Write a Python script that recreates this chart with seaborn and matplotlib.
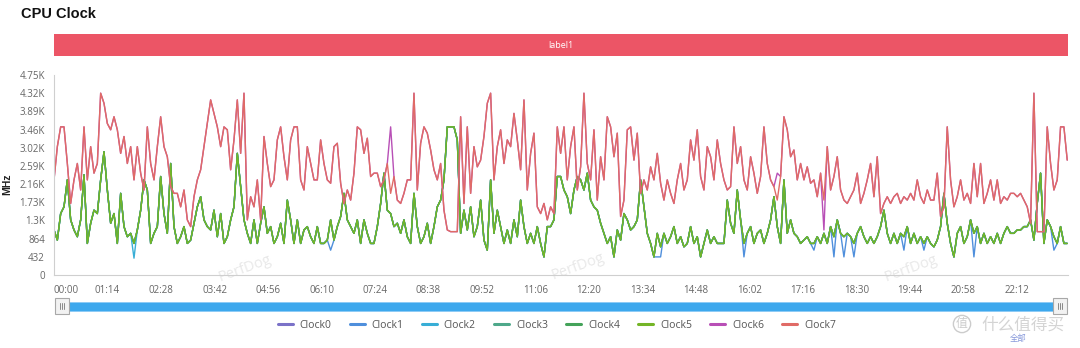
import numpy as np
import pandas as pd
import matplotlib
matplotlib.use("Agg")
import matplotlib.pyplot as plt
import seaborn as sns
from matplotlib.patches import Rectangle
from matplotlib.lines import Line2D

# ---------------- data ----------------
series_names = ["Clock0", "Clock1", "Clock2", "Clock3", "Clock4", "Clock5", "Clock6", "Clock7"]
series_colors = ["#7b72c8", "#4f8fdc", "#38aed6", "#4ea88a", "#44a35a", "#74b527", "#b84fb6", "#e06b66"]

sample_step_s = 4.61  # seconds between samples

clock7 = [
    2260, 3050, 3520, 3520, 2650, 1700, 2260, 2650, 2020, 3520,
    2260, 3050, 2420, 2650, 4320, 4080, 3600, 3450, 3760, 3450,
    2890, 3290, 2650, 3050, 2260, 3050, 2420, 2020, 3520, 2650,
    2260, 3050, 3760, 3050, 2810, 2100, 1940, 1940, 1620, 2020,
    1310, 1150, 1860, 2260, 2500, 3050, 3600, 4160, 3840, 3520,
    3050, 3520, 3450, 2500, 3210, 4160, 2890, 4320, 1310, 1860,
    1620, 2260, 1310, 3290, 2650, 2100, 2260, 3210, 3520, 2810,
    2260, 3210, 3520, 3520, 2260, 2020, 3050, 2650, 2260, 2260,
    3210, 2650, 2260, 2180, 3050, 3130, 2180, 1700, 2020, 1780,
    2420, 3520, 3450, 2890, 3250, 2340, 2420, 2420, 2100, 2260,
    2650, 1940, 2340, 1780, 1700, 1940, 2260, 2260, 4320, 2020,
    3130, 3520, 3370, 2970, 2500, 2260, 2650, 1540, 1070, 1030,
    1030, 1030, 3760, 1700, 3520, 1940, 3050, 2570, 2730, 3290,
    4080, 4320, 2260, 3050, 3450, 2650, 3210, 3050, 3840, 3210,
    2500, 4160, 2020, 2890, 3370, 1620, 1460, 1700, 1310, 1620,
    1460, 3520, 2890, 3520, 2260, 3050, 3520, 2020, 2570, 4320,
    2650, 2260, 3450, 1780, 2810, 2260, 3760, 3520, 2810, 3370,
    1390, 1780, 3450, 3520, 2730, 3370, 1940, 2260, 2020, 2570,
    2260, 2890, 2180, 1780, 2260, 1940, 1700, 2260, 2650, 2020,
    2260, 3210, 2730, 3450, 2340, 2020, 3050, 2810, 2260, 3210,
    2650, 2260, 2020, 2100, 3520, 2650, 3050, 2260, 2020, 2810,
    2420, 1940, 2340, 3520, 2650, 2260, 2100, 1780, 2340, 3760,
    3450, 2810, 2970, 2260, 2650, 2260, 2570, 2180, 2260, 1860,
    2420, 1780, 3050, 2020, 2340, 2810, 2020, 1780, 1700,
    1860, 2020, 2420, 1700, 1940, 2260, 2650, 1860, 2810, 1460,
    1700, 1860, 1700, 1860, 1940, 1700, 1860, 1780, 1940, 1780,
    2260, 1860, 1700, 2020, 1780, 1780, 2420, 1390, 1620, 3520,
    2260, 1620, 1860, 2260, 1780, 1940, 1700, 2650, 1860, 2650,
    1700, 1940, 2260, 1780, 2260, 1700, 1860, 1780, 1940, 1940,
    1860, 1940, 1780, 1620, 1230, 4320, 1030, 1030, 1030, 3520,
    2650, 2020, 2260, 3520, 3520, 2730,
]

clock5 = [
    1070, 830, 1460, 1620, 2260, 1310, 1070, 910, 1310, 2380,
    750, 1230, 1540, 1460, 2260, 2930, 2020, 1230, 1460, 750,
    1940, 1150, 910, 990, 750, 1070, 1540, 2260, 2020, 750,
    990, 1150, 2340, 1460, 990, 2650, 1150, 750, 910, 1150,
    750, 830, 1230, 1620, 1860, 1310, 1150, 1070, 1540, 910,
    1460, 750, 910, 1310, 1620, 2890, 2100, 1310, 990, 750,
    1310, 750, 1230, 1620, 990, 1150, 750, 910, 1230, 750,
    1780, 1310, 750, 1310, 750, 1070, 1150, 910, 750, 1150,
    750, 750, 830, 1310, 830, 1150, 1390, 1940, 1310, 1150,
    990, 1310, 750, 1310, 990, 750, 750, 1150, 1700, 2420,
    1540, 1460, 1150, 1230, 990, 1310, 910, 750, 1940, 1150,
    750, 910, 1230, 750, 1150, 1620, 1780, 2260, 3520, 3520,
    3520, 3210, 990, 1540, 1070, 1620, 910, 1150, 1780, 830,
    590, 2260, 990, 1540, 1150, 750, 1070, 750, 1310, 910,
    1780, 1150, 750, 990, 750, 1150, 750, 430, 1150, 1150,
    1310, 2340, 2340, 2020, 1860, 1460, 2020, 2340, 2260, 2020,
    2420, 1780, 1620, 1540, 1230, 990, 750, 910, 430, 1070,
    830, 1460, 1310, 1070, 1150, 1310, 2260, 1620, 990, 750,
    430, 990, 670, 990, 750, 910, 1150, 750, 910, 670,
    750, 1150, 750, 910, 430, 750, 1070, 750, 910, 750,
    750, 750, 1780, 1230, 990, 2020, 1310, 750, 990, 1150,
    750, 990, 1070, 750, 990, 1310, 1860, 1150, 750, 2260,
    990, 1310, 990, 910, 750, 830, 910, 750, 750, 910,
    750, 990, 750, 1150, 910, 1310, 990, 910, 990,
    910, 750, 990, 1150, 910, 750, 910, 750, 910, 1150,
    1540, 990, 750, 990, 750, 990, 910, 1150, 750, 990,
    750, 910, 750, 910, 750, 670, 830, 1150, 1940, 1230,
    750, 430, 990, 1150, 750, 910, 1310, 990, 1150, 750,
    990, 750, 910, 750, 990, 750, 990, 1150, 990, 990,
    1070, 1070, 1150, 1150, 1310, 830, 1700, 2420, 750, 1310,
    1150, 910, 750, 1150, 750, 750,
]

# samples where the other little cores / Clock6 differ from the visible lines
clock1_dip_index = [83, 181, 182, 207, 228, 234, 237, 240, 255, 261, 276, 300]
clock1_dip_mhz = [590, 430, 430, 430, 590, 430, 430, 430, 590, 590, 430, 590]
clock2_dip_index = [24]
clock2_dip_mhz = [400]
clock6_diff_index = [101, 217, 231]
clock6_diff_mhz = [3520, 2420, 1070]

y_ticks = [0, 432, 864, 1296, 1728, 2160, 2592, 3024, 3456, 3888, 4320, 4752]
y_tick_labels = ["0", "432", "864", "1.3K", "1.73K", "2.16K", "2.59K", "3.02K",
                 "3.46K", "3.89K", "4.32K", "4.75K"]
x_tick_labels = ["00:00", "01:14", "02:28", "03:42", "04:56", "06:10", "07:24",
                 "08:38", "09:52", "11:06", "12:20", "13:34", "14:48", "16:02",
                 "17:16", "18:30", "19:44", "20:58", "22:12"]
x_tick_step_s = 74
x_max_s = 1402.5

# ---------------- build series ----------------
n = len(clock7)
times = np.arange(n) * sample_step_s

clock1 = list(clock5)
for i, v in zip(clock1_dip_index, clock1_dip_mhz):
    clock1[i] = v
clock2 = list(clock5)
for i, v in zip(clock2_dip_index, clock2_dip_mhz):
    clock2[i] = v
clock6 = list(clock7)
for i, v in zip(clock6_diff_index, clock6_diff_mhz):
    clock6[i] = v

values = {
    "Clock0": clock5, "Clock1": clock1, "Clock2": clock2, "Clock3": clock5,
    "Clock4": clock5, "Clock5": clock5, "Clock6": clock6, "Clock7": clock7,
}
frames = [pd.DataFrame({"t": times, "MHz": values[k], "clock": k}) for k in series_names]
df = pd.concat(frames, ignore_index=True)

# ---------------- figure ----------------
sns.set_theme(style="white")
plt.rcParams['font.family'] = ['Open Sans', 'DejaVu Sans']

W, H = 1080, 348
def fx(x):
    return x / W
def fy(y):
    return 1 - y / H

fig = plt.figure(figsize=(W / 100, H / 100), dpi=100)
fig.patch.set_facecolor("white")

ax = fig.add_axes([fx(54), fy(275), 1014 / W, 200 / H])
ax.patch.set_alpha(0)

palette = dict(zip(series_names, series_colors))
sns.lineplot(data=df, x="t", y="MHz", hue="clock", hue_order=series_names,
             palette=palette, estimator=None, sort=False, lw=1.0, legend=False, ax=ax)

ax.set_xlim(0, x_max_s)
ax.set_ylim(0, y_ticks[-1])
ax.set_yticks(y_ticks)
ax.set_yticklabels(y_tick_labels)
ax.set_xticks([k * x_tick_step_s for k in range(len(x_tick_labels))])
ax.set_xticklabels(x_tick_labels)
ax.get_xticklabels()[0].set_horizontalalignment("left")
ax.set_xlabel("")
ax.set_ylabel("")
for s in ["top", "right"]:
    ax.spines[s].set_visible(False)
for s in ["left", "bottom"]:
    ax.spines[s].set_color("#cfcfcf")
    ax.spines[s].set_linewidth(0.8)
ax.tick_params(axis="both", direction="out", length=4, width=0.8, color="#c8c8c8",
               labelsize=7, labelcolor="#666666", pad=2.5)
ax.tick_params(axis="x", pad=3.5)

bold_family = ["Liberation Sans", "DejaVu Sans"]

# title
fig.text(fx(21), fy(14), "CPU Clock", fontsize=10.5, fontweight="bold", family=bold_family,
         color="#111111", ha="left", va="center")

# label banner
fig.add_artist(Rectangle((fx(54), fy(56)), 1014 / W, 22 / H, transform=fig.transFigure,
                         facecolor="#ec5566", edgecolor="none"))
fig.text(fx(561), fy(45), "label1", fontsize=6.5, color="white", ha="center", va="center")

# y unit
fig.text(fx(7), fy(184), "MHz", rotation=90, fontsize=7.5, fontweight="bold", family=bold_family,
         color="#222222", ha="center", va="center")

# watermarks
for (wx, wy) in [(245, 268), (578, 266), (911, 268)]:
    fig.text(fx(wx), fy(wy), "PerfDog", fontsize=10.5, color="#e8e8e8", rotation=20,
             ha="center", va="center", zorder=-1)

# slider
fig.add_artist(Rectangle((fx(62), fy(311)), 998 / W, 9 / H, transform=fig.transFigure,
                         facecolor="#3da8ed", edgecolor="#8ccaf5", lw=0.6))
for hx in (55, 1053):
    fig.add_artist(Rectangle((fx(hx), fy(314)), 14 / W, 16 / H, transform=fig.transFigure,
                             facecolor="#f2f2f2", edgecolor="#a8a8a8", lw=0.8))
    for dx in (-2, 0, 2):
        cx = hx + 7 + dx
        fig.add_artist(Line2D([fx(cx), fx(cx)], [fy(303), fy(309)], transform=fig.transFigure,
                              color="#888888", lw=0.7))

# legend
handles = [Line2D([], [], color=c, lw=2.2) for c in series_colors]
fig.legend(handles, series_names, loc="center", bbox_to_anchor=(fx(557), fy(325)),
           ncol=8, frameon=False, fontsize=7.5, handlelength=1.45, handletextpad=0.65,
           columnspacing=1.75, labelcolor="#555555")

# site watermark bottom right
cjk = ["Noto Sans CJK SC", "DejaVu Sans"]
fig.text(fx(962), fy(324), "值", fontsize=8.5, color="#cccccc", family=cjk,
         ha="center", va="center",
         bbox=dict(boxstyle="circle,pad=0.18", fc="none", ec="#cccccc", lw=1.0))
fig.text(fx(981), fy(325), "什么值得买", fontsize=12, color="#d4d4d4", family=cjk,
         ha="left", va="center")
fig.text(fx(1018), fy(338), "全部", fontsize=6, color="#6a80d2", family=cjk,
         ha="center", va="center", alpha=0.8)

fig.savefig("out.png", dpi=100)
